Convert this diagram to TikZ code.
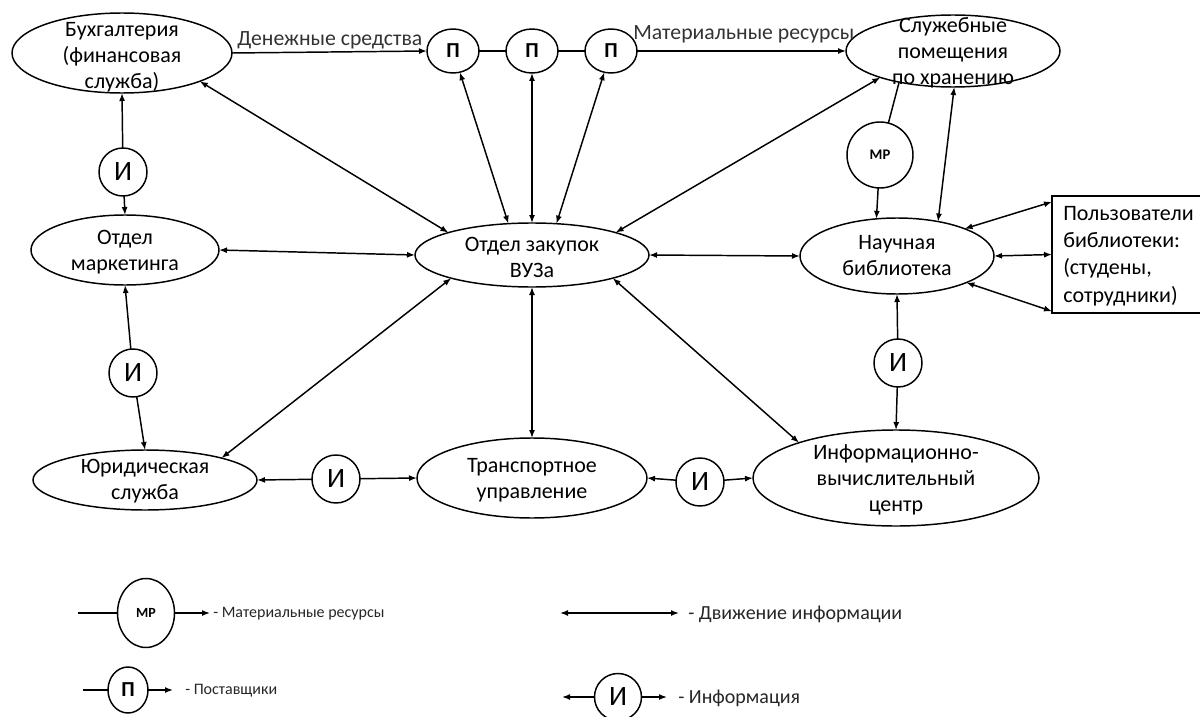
\documentclass[tikz,border=0pt]{standalone}
\usepackage{fontspec}
\setmainfont{Carlito}
\usetikzlibrary{shapes.geometric,arrows.meta,calc}
\begin{document}
\begin{tikzpicture}[x=0.75pt,y=-0.75pt,
  ell/.style={draw, ellipse, line width=1.1pt, inner sep=0pt, outer sep=0pt},
  sz/.style 2 args={minimum width=#1*0.75pt, minimum height=#2*0.75pt},
  txt/.style={align=center, inner sep=0pt, font=\fontsize{16.5}{19.5}\selectfont},
  itxt/.style={font=\fontsize{21}{21}\selectfont},
  ptxt/.style={font=\bfseries\fontsize{16}{16}\selectfont},
  mtxt/.style={font=\bfseries\fontsize{11}{11}\selectfont},
  lbl/.style={inner sep=0pt, text=black!80, font=\fontsize{16.3}{16.3}\selectfont},
  legtxt/.style={inner sep=0pt, anchor=west, text=black!85, font=\fontsize{12}{12}\selectfont},
  legtxtr/.style={legtxt, font=\fontsize{15}{15}\selectfont},
  con/.style={line width=1.1pt},
  arr/.style={con, -{Latex[length=6pt,width=4.5pt]}},
  darr/.style={con, {Latex[length=6pt,width=4.5pt]}-{Latex[length=6pt,width=4.5pt]}}
]
\useasboundingbox (0,0) rectangle (1200,717);

% main ellipses
\node[ell, sz={220}{80}] (buh) at (122,53) {};
\node[txt] (buh-t) at (122,57) {Бухгалтерия\\(финансовая\\служба)};
\node[ell, sz={214}{72}] (serv) at (953,51) {};
\node[txt] (serv-t) at (953,53) {Служебные\\помещения\\по хранению};
\node[ell, sz={194}{76}] (nauch) at (897,256) {};
\node[txt] (nauch-t) at (897,256) {Научная\\библиотека};
\node[ell, sz={234}{64}] (zak) at (532,255) {};
\node[txt] (zak-t) at (532,257) {Отдел закупок\\ВУЗа};
\node[ell, sz={188}{70}] (mark) at (125,250) {};
\node[txt] (mark-t) at (125,252) {Отдел\\маркетинга};
\node[ell, sz={224}{60}] (jur) at (145,480) {};
\node[txt] (jur-t) at (145,481) {Юридическая\\служба};
\node[ell, sz={230}{80}] (trans) at (532,478) {};
\node[txt] (trans-t) at (532,480) {Транспортное\\управление};
\node[ell, sz={286}{96}] (ivc) at (896,478) {};
\node[txt] (ivc-t) at (896,480) {Информационно-\\вычислительный\\центр};

% users box
\node[draw, line width=1.1pt, inner sep=0pt, outer sep=0pt, sz={151}{117}] (users) at (1127.5,254.5) {};
\node[txt, align=left, anchor=west, font=\fontsize{16.5}{20.5}\selectfont] (users-t) at (1063,256) {Пользователи\\библиотеки:\\(студены,\\сотрудники)};

% suppliers
\node[ell, sz={52}{44}, ptxt] (p1) at (453,51) {П};
\node[ell, sz={52}{44}, ptxt] (p2) at (532,51) {П};
\node[ell, sz={52}{44}, ptxt] (p3) at (611,51) {П};

% material resources
\node[ell, sz={66}{66}, mtxt] (mp) at (880,155) {МР};

% information circles
\node[ell, sz={48}{48}, itxt] (i1) at (123,172) {И};
\node[ell, sz={48}{48}, itxt] (i2) at (133,373) {И};
\node[ell, sz={48}{48}, itxt] (i3) at (336,479) {И};
\node[ell, sz={48}{48}, itxt] (i4) at (700,482) {И};
\node[ell, sz={48}{48}, itxt] (i5) at (898,363) {И};

% labels on top lines
\node[lbl, anchor=base west] (money) at (237,46) {Денежные средства};
\node[lbl, anchor=base west] (matres) at (633,40) {Материальные ресурсы};

% connectors
\draw[arr] (buh.east) -- (p1.west);
\draw[con] (p1) -- (p2);
\draw[con] (p2) -- (p3);
\draw[arr] (p3.east) -- (serv.west);
\draw[darr] (buh.-20) -- (zak.165);
\draw[darr] (p1) -- (zak.127);
\draw[darr] (p2) -- (zak.north);
\draw[darr] (p3) -- (zak.52);
\draw[darr] (serv.200) -- (zak.15);
\draw[con] (serv.210) -- (mp);
\draw[arr] (mp) -- (nauch.119);
\draw[darr] (serv.-88) -- (nauch.40);
\draw[darr] (nauch.22) -- ($(users.north west)!0.05!(users.south west)$);
\draw[darr] (nauch.east) -- (users.west);
\draw[darr] (nauch.-21) -- ($(users.north west)!0.985!(users.south west)$);
\draw[darr] (zak.east) -- (nauch.west);
\draw[arr] (i1) -- (buh.south);
\draw[arr] (i1) -- (mark.north);
\draw[darr] (mark.east) -- (zak.west);
\draw[arr] (i2) -- (mark.south);
\draw[arr] (i2) -- (jur.north);
\draw[darr] (jur.16) -- (zak.196);
\draw[arr] (i3) -- (jur.east);
\draw[arr] (i3) -- (trans.west);
\draw[darr] (zak.south) -- (trans.north);
\draw[arr] (i4) -- (trans.east);
\draw[arr] (i4) -- (ivc.west);
\draw[darr] (zak.-16) -- (ivc.160.7);
\draw[arr] (i5) -- (nauch.south);
\draw[arr] (i5) -- (ivc.north);

% legend
\coordinate (la1) at (78,613);
\coordinate (la2) at (210,613);
\node[ell, sz={57}{69}, font=\bfseries\fontsize{10.5}{10.5}\selectfont] (lmp) at (146,613) {МР};
\draw[con] (la1) -- (lmp);
\draw[arr] (lmp) -- (la2);
\node[legtxt] (lmp-t) at (213,614) {- Материальные ресурсы};

\coordinate (lb1) at (83,690);
\coordinate (lb2) at (173,690);
\node[ell, sz={40}{46}, ptxt] (lp) at (128,690) {П};
\draw[con] (lb1) -- (lp);
\draw[arr] (lp) -- (lb2);
\node[legtxt] (lp-t) at (185,691) {- Поставщики};

\coordinate (lc1) at (560,613);
\coordinate (lc2) at (679,613);
\draw[darr] (lc1) -- (lc2);
\node[legtxtr] (lc-t) at (688,614) {- Движение информации};

\coordinate (ld1) at (562,697);
\coordinate (ld2) at (667,697);
\node[ell, sz={47}{47}, itxt] (li) at (618,697) {И};
\draw[arr] (li) -- (ld1);
\draw[arr] (li) -- (ld2);
\node[legtxtr] (li-t) at (678,698) {- Информация};
\end{tikzpicture}
\end{document}
